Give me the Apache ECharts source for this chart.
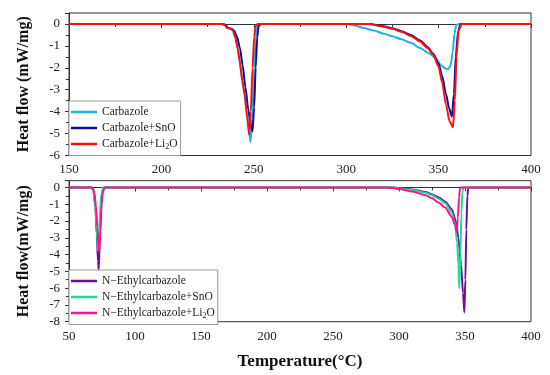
<!DOCTYPE html>
<html><head><meta charset="utf-8">
<script src="https://cdn.jsdelivr.net/npm/echarts@6/dist/echarts.min.js"></script>
<style>html,body{margin:0;padding:0;background:#fff}#c{width:550px;height:375px}</style>
</head><body><div id="c"></div>
<script>
// Top panel (Carbazole) : [temperature °C, heat flow mW/mg]
const carbazole = [[150,0],[233,0],[234.5,-0.05],[235.5,-0.18],[237.5,-0.22],[238.5,-0.3],[240,-0.6],[241.5,-1.2],[243,-2.1],[244.5,-3.0],[246,-3.9],[247.3,-4.8],[248.2,-5.4],[249.2,-4.3],[250.2,-2.0],[251.2,-0.5],[252.2,-0.05],[253.5,0],[301,0],[305,-0.08],[310,-0.2],[315,-0.3],[320,-0.43],[325,-0.56],[330,-0.7],[335,-0.86],[340,-1.1],[345,-1.35],[348.4,-1.56],[351.4,-1.88],[353.5,-2.02],[355,-2.07],[356.5,-1.9],[357.6,-1.3],[358.6,-0.45],[359.5,-0.05],[361,0],[400,0]];
const carbazoleSnO = [[150,0],[233.5,0],[235,-0.06],[236,-0.18],[238,-0.22],[239.3,-0.3],[241,-0.6],[242.5,-1.1],[244,-1.9],[245.5,-2.9],[247,-3.9],[248.3,-4.6],[249.3,-4.9],[250.2,-3.8],[251,-2.0],[251.9,-0.6],[252.6,-0.1],[254,0],[313,0],[320,-0.1],[325,-0.2],[330,-0.33],[335,-0.5],[340,-0.75],[344,-1.05],[347,-1.35],[350,-1.8],[352,-2.4],[354,-3.2],[355.7,-3.85],[357.2,-4.22],[358.3,-3.2],[359.3,-1.5],[360.5,-0.35],[362,0],[400,0]];
const carbazoleLi2O = [[150,0],[233,0],[234.5,-0.06],[235.5,-0.18],[237.5,-0.22],[238.8,-0.3],[240,-0.6],[241.2,-1.1],[242.4,-1.7],[243.8,-2.6],[245.1,-3.2],[246.4,-4.27],[247.5,-5.05],[248.4,-4.0],[249.3,-2.0],[250.2,-0.6],[251,-0.1],[252,0],[312,0],[320,-0.12],[325,-0.22],[330,-0.36],[335,-0.55],[340,-0.8],[344,-1.1],[347,-1.38],[350,-1.95],[352,-2.7],[354,-3.7],[356,-4.45],[357.8,-4.72],[358.8,-3.5],[359.7,-1.5],[360.8,-0.3],[362.5,0],[400,0]];

// Bottom panel (N-Ethylcarbazole)
const ethyl = [[50,0],[67,0],[68.5,-0.2],[70,-1.2],[71,-2.8],[72,-4.4],[72.5,-4.9],[73.2,-3.5],[74,-1.5],[75,-0.4],[76.5,0],[296,0],[300,-0.05],[310,-0.12],[320,-0.27],[325,-0.42],[330,-0.6],[335,-0.85],[340,-1.3],[343,-2.0],[345,-3.0],[347,-4.6],[348.5,-6.3],[349.5,-7.45],[350.3,-5.5],[351,-2.5],[351.8,-0.5],[352.5,0],[400,0]];
const ethylSnO = [[50,0],[67,0],[68.5,-0.2],[70,-1.1],[71,-2.5],[72,-3.75],[72.7,-3.0],[73.5,-1.4],[74.5,-0.4],[76,0],[296,0],[300,-0.06],[310,-0.15],[320,-0.32],[325,-0.47],[330,-0.67],[335,-0.95],[340,-1.5],[342.5,-2.2],[344,-3.3],[345,-4.6],[345.6,-6.0],[346.5,-4.0],[347.3,-1.5],[348,-0.3],[348.8,0],[400,0]];
const ethylLi2O = [[50,0],[67.5,0],[69,-0.2],[70.5,-1.1],[71.5,-2.4],[72.5,-3.5],[73,-3.8],[73.8,-2.6],[74.7,-1.0],[75.6,-0.3],[77,0],[290,0],[295,-0.04],[300,-0.1],[310,-0.25],[320,-0.46],[325,-0.65],[330,-0.9],[335,-1.2],[340,-1.75],[342.5,-2.25],[343.7,-2.64],[344.6,-1.8],[345.5,-0.6],[346.3,0],[400,0]];

const topNames = ['Carbazole','Carbazole+SnO','Carbazole+Li2O'];
const botNames = ['N\u2212Ethylcarbazole','N\u2212Ethylcarbazole+SnO','N\u2212Ethylcarbazole+Li2O'];

const FONT = "'Liberation Serif','Times New Roman',serif";
const axisCol = '#333';
const chart = echarts.init(document.getElementById('c'));

function xAx(idx, min, name) {
  return {
    type: 'value', gridIndex: idx, min: min, max: 400, interval: 50,
    axisLine: {lineStyle: {color: axisCol, width: 1}},
    axisTick: {show: true, length: 4, lineStyle: {color: axisCol}},
    minorTick: {show: true, splitNumber: 2, length: 3, lineStyle: {color: axisCol}},
    splitLine: {show: false},
    axisLabel: {color: '#222', fontFamily: FONT, fontSize: 13, margin: 8},
    name: name || '', nameLocation: 'middle', nameGap: 31,
    nameTextStyle: {color: '#111', fontFamily: FONT, fontSize: 17, fontWeight: 'bold'}
  };
}
function yAx(idx, min, max, name) {
  return {
    type: 'value', gridIndex: idx, min: min, max: max, interval: 1,
    axisLine: {show: true, lineStyle: {color: axisCol, width: 1}},
    axisTick: {show: true, length: 4, lineStyle: {color: axisCol}},
    minorTick: {show: true, splitNumber: 2, length: 3, lineStyle: {color: axisCol}},
    splitLine: {show: false},
    axisLabel: {color: '#222', fontFamily: FONT, fontSize: 13, margin: 9, showMaxLabel: false},
    name: name, nameLocation: 'middle', nameGap: 37,
    nameTextStyle: {color: '#111', fontFamily: FONT, fontSize: 16, fontWeight: 'bold'}
  };
}
function legendFmt(n) { return n.replace('Li2O', 'Li{sub|2}O'); }
function leg(names, top) {
  return {
    data: names, orient: 'vertical', left: 69, top: top,
    backgroundColor: '#fff', borderColor: '#999', borderWidth: 1, borderRadius: 0,
    padding: [5, 3, 5, 2], itemGap: 4, itemWidth: 26, itemHeight: 12,
    icon: 'path://M0,0H26V2.5H0Z',
    formatter: legendFmt,
    textStyle: {color: '#222', fontFamily: FONT, fontSize: 11.5,
      rich: {sub: {fontFamily: FONT, fontSize: 8, color: '#222', verticalAlign: 'bottom', padding: [5, 0, 0, 0]}}}
  };
}
function ser(name, data, color, idx) {
  return {name: name, type: 'line', xAxisIndex: idx, yAxisIndex: idx, data: data,
    symbol: 'none', smooth: 0.25, smoothMonotone: 'x',
    lineStyle: {color: color, width: 2}, itemStyle: {color: color}};
}

chart.setOption({
  animation: false,
  backgroundColor: '#fff',
  grid: [
    {left: 69, right: 19, top: 13, height: 142.5, show: true, borderColor: axisCol, borderWidth: 1},
    {left: 69, right: 19, top: 180.7, height: 141, show: true, borderColor: axisCol, borderWidth: 1}
  ],
  xAxis: [xAx(0, 150), xAx(1, 50, 'Temperature(\u00B0C)')],
  yAxis: [yAx(0, -6, 0.5, 'Heat flow (mW/mg)'), yAx(1, -8, 0.4, 'Heat flow(mW/mg)')],
  legend: [leg(topNames, 101), leg(botNames, 270)],
  series: [
    ser(topNames[0], carbazole, '#1cb4e8', 0),
    ser(topNames[1], carbazoleSnO, '#0e0e96', 0),
    ser(topNames[2], carbazoleLi2O, '#fb1010', 0),
    ser(botNames[0], ethyl, '#6c0f9c', 1),
    ser(botNames[1], ethylSnO, '#1edc96', 1),
    ser(botNames[2], ethylLi2O, '#f8148c', 1)
  ]
});
</script></body></html>
